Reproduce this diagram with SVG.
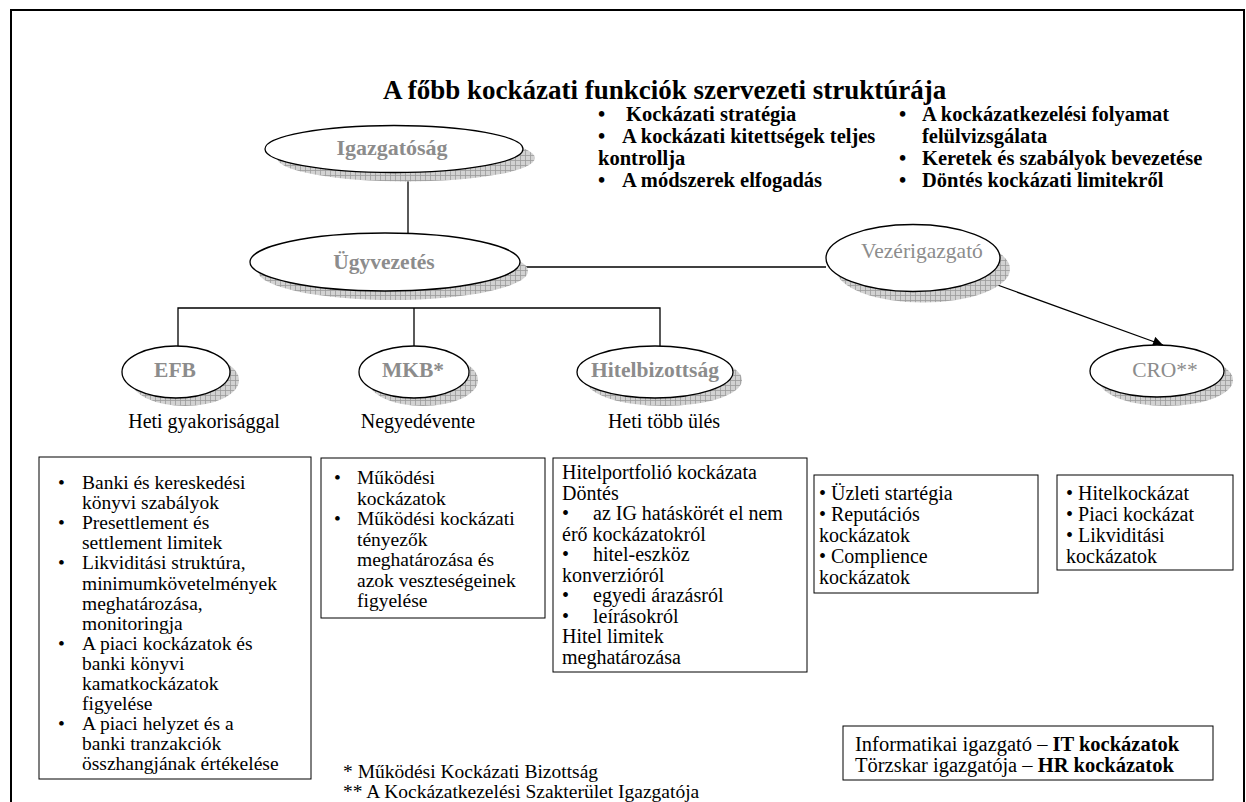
<svg xmlns="http://www.w3.org/2000/svg" width="1246" height="802" viewBox="0 0 1246 802">
<defs>
<pattern id="hatch" width="5" height="5" patternUnits="userSpaceOnUse">
<rect width="5" height="5" fill="#d2d2d2"/>
<path d="M0 0.5H5M0.5 0V5" stroke="#9a9a9a" stroke-width="0.8"/>
</pattern>
<marker id="arr" viewBox="0 0 10 10" refX="10" refY="5" markerWidth="12" markerHeight="10" orient="auto" markerUnits="userSpaceOnUse">
<path d="M0 0L10 5L0 10Z" fill="#000"/>
</marker>
</defs>
<style>
.node{fill:#fff;stroke:#000;stroke-width:1.3}
.sh{fill:url(#hatch);stroke:none}
.nl{font-family:"Liberation Serif",serif;font-size:21.5px;fill:#8c8c8c;text-anchor:middle}
.bold{font-weight:bold}
.t{font-family:"Liberation Serif",serif;font-size:19.5px;fill:#000}
.tb{font-family:"Liberation Serif",serif;font-size:20.5px;font-weight:bold;fill:#000}
.lab{font-family:"Liberation Serif",serif;font-size:20px;fill:#000;text-anchor:middle}
.box{fill:#fff;stroke:#000;stroke-width:1}
.conn{stroke:#000;stroke-width:1.3;fill:none}
.frame{stroke:#000;stroke-width:2;fill:none}
</style>
<path class="frame" d="M11 802V10H1244V802"/>
<text x="383" y="99" font-family="Liberation Serif, serif" font-size="27" font-weight="bold">A főbb kockázati funkciók szervezeti struktúrája</text>
<g id="top-bullets" class="tb">
<text x="598" y="121">•</text><text x="626" y="121">Kockázati stratégia</text>
<text x="598" y="143">•</text><text x="622" y="143">A kockázati kitettségek teljes</text>
<text x="598" y="165">kontrollja</text>
<text x="598" y="187">•</text><text x="622" y="187">A módszerek elfogadás</text>
<text x="899" y="121">•</text><text x="922" y="121">A kockázatkezelési folyamat</text>
<text x="922" y="143">felülvizsgálata</text>
<text x="899" y="165">•</text><text x="922" y="165">Keretek és szabályok bevezetése</text>
<text x="899" y="187">•</text><text x="922" y="187">Döntés kockázati limitekről</text>
</g>
<g id="connectors" class="conn">
<line x1="408" y1="172" x2="408" y2="234"/>
<line x1="518" y1="267" x2="826" y2="267"/>
<polyline points="178,346 178,308 660,308 660,346"/>
<line x1="414" y1="308" x2="414" y2="346"/>
<line x1="992" y1="283" x2="1163" y2="345" marker-end="url(#arr)"/>
</g>
<g id="igazgatosag">
<ellipse class="sh" cx="406" cy="158" rx="129" ry="23.5"/>
<ellipse class="node" cx="394" cy="149" rx="129" ry="23.5"/>
<text class="nl bold" x="392" y="155" style="font-size:22px">Igazgatóság</text>
</g>
<g id="ugyvezetes">
<ellipse class="sh" cx="393" cy="271" rx="135" ry="29"/>
<ellipse class="node" cx="385" cy="262" rx="135" ry="29"/>
<text class="nl bold" x="384" y="269">Ügyvezetés</text>
</g>
<g id="vezerigazgato">
<ellipse class="sh" cx="923" cy="269" rx="87" ry="33.5"/>
<ellipse class="node" cx="913" cy="258" rx="87" ry="33.5"/>
<text class="nl" x="922" y="258">Vezérigazgató</text>
</g>
<g id="efb">
<ellipse class="sh" cx="185" cy="380" rx="54" ry="26"/>
<ellipse class="node" cx="176" cy="372" rx="54" ry="26"/>
<text class="nl bold" x="175" y="377">EFB</text>
</g>
<g id="mkb">
<ellipse class="sh" cx="423" cy="380" rx="55" ry="26"/>
<ellipse class="node" cx="414" cy="372" rx="55" ry="26"/>
<text class="nl bold" x="413" y="377">MKB*</text>
</g>
<g id="hitelbizottsag">
<ellipse class="sh" cx="664" cy="380" rx="78" ry="26"/>
<ellipse class="node" cx="655" cy="372" rx="78" ry="26"/>
<text class="nl bold" x="655" y="377">Hitelbizottság</text>
</g>
<g id="cro">
<ellipse class="sh" cx="1166" cy="380" rx="67" ry="26"/>
<ellipse class="node" cx="1157" cy="371" rx="67" ry="26"/>
<text class="nl" x="1165" y="377">CRO**</text>
</g>
<g id="freq-labels" class="lab">
<text x="204" y="428">Heti gyakorisággal</text>
<text x="418" y="428">Negyedévente</text>
<text x="664" y="428">Heti több ülés</text>
</g>
<g id="box-efb">
<rect class="box" x="39" y="457" width="272" height="322"/>
<g class="t">
<text x="58" y="489">•</text><text x="82" y="489">Banki és kereskedési</text>
<text x="82" y="509.1">könyvi szabályok</text>
<text x="58" y="529.2">•</text><text x="82" y="529.2">Presettlement és</text>
<text x="82" y="549.3">settlement limitek</text>
<text x="58" y="569.4">•</text><text x="82" y="569.4">Likviditási struktúra,</text>
<text x="82" y="589.5">minimumkövetelmények</text>
<text x="82" y="609.6">meghatározása,</text>
<text x="82" y="629.7">monitoringja</text>
<text x="58" y="649.8">•</text><text x="82" y="649.8">A piaci kockázatok és</text>
<text x="82" y="669.9">banki könyvi</text>
<text x="82" y="690">kamatkockázatok</text>
<text x="82" y="710.1">figyelése</text>
<text x="58" y="730.2">•</text><text x="82" y="730.2">A  piaci helyzet és a</text>
<text x="82" y="750.3">banki tranzakciók</text>
<text x="82" y="770.4">összhangjának értékelése</text>
</g>
</g>
<g id="box-mkb">
<rect class="box" x="321" y="458" width="224" height="160"/>
<g class="t">
<text x="334" y="484">•</text><text x="357" y="484">Működési</text>
<text x="357" y="504.5">kockázatok</text>
<text x="334" y="525">•</text><text x="357" y="525">Működési kockázati</text>
<text x="357" y="545.5">tényezők</text>
<text x="357" y="566">meghatározása és</text>
<text x="357" y="586.5">azok veszteségeinek</text>
<text x="357" y="607">figyelése</text>
</g>
</g>
<g id="box-hitel">
<rect class="box" x="553" y="458" width="254" height="214"/>
<g class="t" style="font-size:20px">
<text x="562" y="479">Hitelportfolió kockázata</text>
<text x="562" y="499.5">Döntés</text>
<text x="562" y="520">•</text><text x="593" y="520">az IG hatáskörét el nem</text>
<text x="562" y="540.5">érő kockázatokról</text>
<text x="562" y="561">•</text><text x="593" y="561">hitel-eszköz</text>
<text x="562" y="581.5">konverzióról</text>
<text x="562" y="602">•</text><text x="593" y="602">egyedi árazásról</text>
<text x="562" y="622.5">•</text><text x="593" y="622.5">leírásokról</text>
<text x="562" y="643">Hitel limitek</text>
<text x="562" y="663.5">meghatározása</text>
</g>
</g>
<g id="box-vezer">
<rect class="box" x="814" y="475" width="224" height="118"/>
<g class="t" style="font-size:20px">
<text x="819" y="500">• Üzleti startégia</text>
<text x="819" y="521">• Reputációs</text>
<text x="819" y="542">kockázatok</text>
<text x="819" y="563">• Complience</text>
<text x="819" y="584">kockázatok</text>
</g>
</g>
<g id="box-cro">
<rect class="box" x="1057" y="475" width="176" height="95"/>
<g class="t" style="font-size:20px">
<text x="1066" y="500">• Hitelkockázat</text>
<text x="1066" y="521">• Piaci kockázat</text>
<text x="1066" y="542">• Likviditási</text>
<text x="1066" y="563">kockázatok</text>
</g>
</g>
<g id="box-it">
<rect class="box" x="843" y="726" width="370" height="54"/>
<g class="t" style="font-size:20.5px">
<text x="855" y="751">Informatikai igazgató – <tspan font-weight="bold">IT kockázatok</tspan></text>
<text x="855" y="772">Törzskar igazgatója – <tspan font-weight="bold">HR kockázatok</tspan></text>
</g>
</g>
<g id="footnotes" class="t">
<text x="343" y="778">* Működési Kockázati Bizottság</text>
<text x="343" y="798">** A Kockázatkezelési Szakterület Igazgatója</text>
</g>
</svg>
